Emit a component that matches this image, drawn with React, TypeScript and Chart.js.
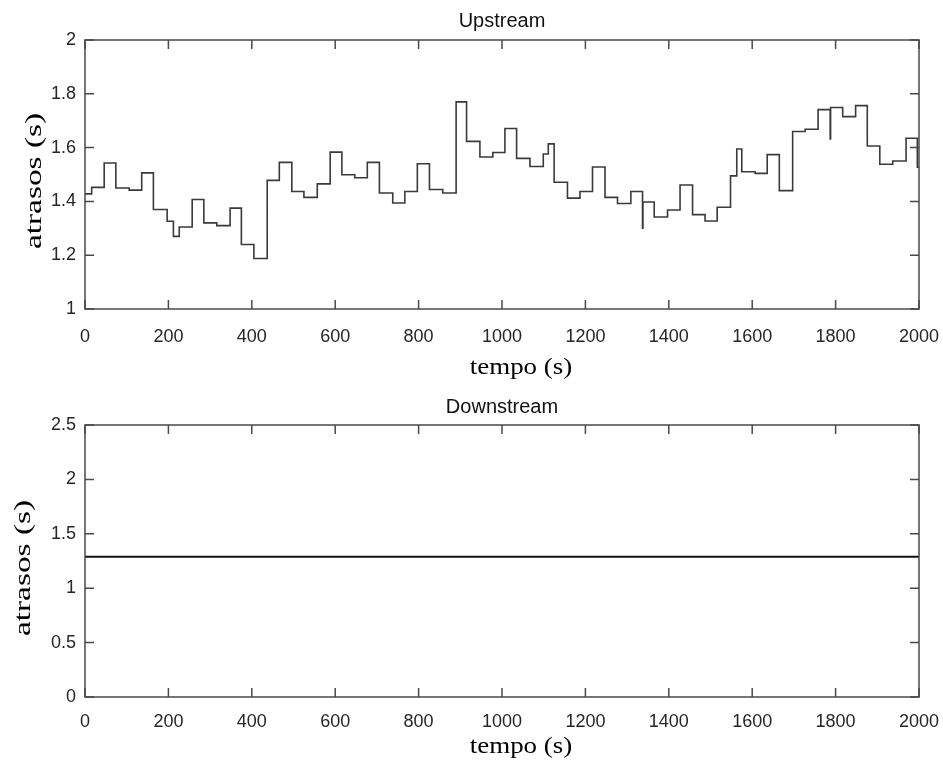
import React, { useEffect, useRef } from "react";
import { Chart, registerables } from "chart.js";

Chart.register(...registerables);

// ---- data ----
const upTimes = [
  0, 16, 46, 74, 106, 136, 164, 197, 212, 226, 257, 285, 316, 348, 375, 405,
  437, 466, 496, 525, 557, 588, 616, 647, 677, 706, 738, 767, 797, 826, 858,
  890, 915, 947, 978, 1007, 1035, 1067, 1099, 1111, 1125, 1157, 1187, 1217,
  1247, 1277, 1309, 1337, 1338, 1365, 1397, 1427, 1457, 1487, 1516, 1548, 1563,
  1575, 1607, 1636, 1665, 1697, 1727, 1758, 1787, 1788, 1817, 1848, 1876, 1906,
  1937, 1969, 1996, 2000,
];
const upValues = [
  1.428, 1.452, 1.543, 1.45, 1.442, 1.506, 1.37, 1.326, 1.27, 1.305, 1.407,
  1.32, 1.31, 1.375, 1.24, 1.188, 1.478, 1.545, 1.437, 1.415, 1.465, 1.583,
  1.499, 1.488, 1.545, 1.431, 1.394, 1.437, 1.54, 1.444, 1.431, 1.77, 1.623,
  1.565, 1.582, 1.671, 1.56, 1.53, 1.576, 1.614, 1.471, 1.412, 1.437, 1.528,
  1.415, 1.392, 1.437, 1.3, 1.398, 1.342, 1.368, 1.461, 1.351, 1.327, 1.378,
  1.495, 1.595, 1.51, 1.504, 1.574, 1.44, 1.66, 1.668, 1.741, 1.632, 1.749,
  1.715, 1.756, 1.606, 1.538, 1.55, 1.635, 1.527, 1.527,
];
const downTimes = [0, 2000];
const downValues = [1.29, 1.29];

const xTickValues = [0, 200, 400, 600, 800, 1000, 1200, 1400, 1600, 1800, 2000];
const upYTickValues = [1, 1.2, 1.4, 1.6, 1.8, 2];
const downYTickValues = [0, 0.5, 1, 1.5, 2, 2.5];

const upTitle = "Upstream";
const downTitle = "Downstream";
const xTitle = "tempo (s)";
const yTitle = "atrasos (s)";

const TICK_FONT = "'Liberation Sans', Arial, sans-serif";
const TITLE_FONT = "'Liberation Sans', Arial, sans-serif";
const SERIF_FONT = "'Liberation Serif', 'Times New Roman', serif";

type PanelCfg = {
  times: number[];
  values: number[];
  yTicks: number[];
  yMin: number;
  yMax: number;
  title: string;
  height: number;
  top: number;
  plotTop: number;
  plotBottom: number;
  titleBaseline: number;
  xTitleBaseline: number;
  yTitleX: number;
  yTitleY: number;
  xTickPad: number;
  lineColor: string;
  lineWidth: number;
};

function fmt(v: number) {
  return String(Math.round(v * 10) / 10);
}

function framePlugin(cfg: PanelCfg) {
  return {
    id: "frame",
    afterDatasetsDraw(chart: any) {
      const { ctx, chartArea: a, scales } = chart;
      ctx.save();
      ctx.strokeStyle = "#4a4a4a";
      ctx.lineWidth = 1.5;
      ctx.strokeRect(a.left, a.top, a.right - a.left, a.bottom - a.top);
      const L = 9;
      ctx.beginPath();
      scales.x.ticks.forEach((t: any) => {
        const px = scales.x.getPixelForValue(t.value);
        ctx.moveTo(px, a.bottom);
        ctx.lineTo(px, a.bottom - L);
        ctx.moveTo(px, a.top);
        ctx.lineTo(px, a.top + L);
      });
      scales.y.ticks.forEach((t: any) => {
        const py = scales.y.getPixelForValue(t.value);
        ctx.moveTo(a.left, py);
        ctx.lineTo(a.left + L, py);
        ctx.moveTo(a.right, py);
        ctx.lineTo(a.right - L, py);
      });
      ctx.stroke();

      ctx.fillStyle = "#111";
      ctx.textAlign = "center";
      ctx.textBaseline = "alphabetic";
      ctx.font = `20px ${TITLE_FONT}`;
      ctx.fillText(cfg.title, (a.left + a.right) / 2, cfg.titleBaseline);

      ctx.fillStyle = "#000";
      ctx.font = `23px ${SERIF_FONT}`;
      ctx.save();
      ctx.translate(521, cfg.xTitleBaseline);
      ctx.scale(1.17, 1);
      ctx.fillText(xTitle, 0, 0);
      ctx.restore();

      ctx.save();
      ctx.translate(cfg.yTitleX, cfg.yTitleY);
      ctx.rotate(-Math.PI / 2);
      ctx.scale(1.45, 1);
      ctx.textBaseline = "middle";
      ctx.fillText(yTitle, 0, 0);
      ctx.restore();

      ctx.restore();
    },
  };
}

function Panel({ cfg }: { cfg: PanelCfg }) {
  const ref = useRef<HTMLCanvasElement | null>(null);
  useEffect(() => {
    if (!ref.current) return;
    const points = cfg.times.map((t, i) => ({ x: t, y: cfg.values[i] }));
    const chart = new Chart(ref.current, {
      type: "line",
      data: {
        datasets: [
          {
            data: points,
            stepped: "before",
            borderColor: cfg.lineColor,
            borderWidth: cfg.lineWidth,
            pointRadius: 0,
            fill: false,
          },
        ],
      },
      options: {
        animation: false,
        responsive: false,
        devicePixelRatio: 1,
        layout: { padding: { left: 0, right: 24, top: cfg.plotTop, bottom: 0 } },
        plugins: { legend: { display: false }, tooltip: { enabled: false }, title: { display: false } },
        scales: {
          x: {
            type: "linear",
            min: 0,
            max: 2000,
            grid: { display: false, drawTicks: false },
            border: { display: false },
            afterBuildTicks: (s: any) => {
              s.ticks = xTickValues.map((v) => ({ value: v }));
            },
            afterFit: (s: any) => {
              s.height = cfg.height - cfg.plotBottom;
              s.paddingLeft = 0;
              s.paddingRight = 0;
            },
            ticks: {
              padding: cfg.xTickPad,
              color: "#262626",
              font: { family: TICK_FONT, size: 18 },
              maxRotation: 0,
              autoSkip: false,
              callback: (v: any) => String(v),
            },
          },
          y: {
            type: "linear",
            min: cfg.yMin,
            max: cfg.yMax,
            grid: { display: false, drawTicks: false },
            border: { display: false },
            afterBuildTicks: (s: any) => {
              s.ticks = cfg.yTicks.map((v) => ({ value: v }));
            },
            afterFit: (s: any) => {
              s.width = 85;
              s.paddingTop = 0;
              s.paddingBottom = 0;
            },
            ticks: {
              padding: 9,
              color: "#262626",
              font: { family: TICK_FONT, size: 18 },
              autoSkip: false,
              callback: (v: any) => fmt(Number(v)),
            },
          },
        },
      },
      plugins: [framePlugin(cfg)],
    } as any);
    return () => chart.destroy();
  }, [cfg]);
  return (
    <canvas
      ref={ref}
      width={943}
      height={cfg.height}
      style={{ position: "absolute", left: 0, top: cfg.top, width: 943, height: cfg.height, display: "block" }}
    />
  );
}

const upCfg: PanelCfg = {
  times: upTimes,
  values: upValues,
  yTicks: upYTickValues,
  yMin: 1,
  yMax: 2,
  title: upTitle,
  height: 385,
  top: 0,
  plotTop: 40,
  plotBottom: 309,
  titleBaseline: 27,
  xTitleBaseline: 374,
  yTitleX: 35,
  yTitleY: 181,
  xTickPad: 17,
  lineColor: "#3a3a3a",
  lineWidth: 1.6,
};

const downCfg: PanelCfg = {
  times: downTimes,
  values: downValues,
  yTicks: downYTickValues,
  yMin: 0,
  yMax: 2.5,
  title: downTitle,
  height: 382,
  top: 385,
  plotTop: 40,
  plotBottom: 312,
  titleBaseline: 28,
  xTitleBaseline: 368,
  yTitleX: 24,
  yTitleY: 183,
  xTickPad: 14,
  lineColor: "#111111",
  lineWidth: 2,
};

export default function App() {
  return (
    <div style={{ position: "fixed", left: 0, top: 0, width: 943, height: 767, background: "#fff", overflow: "hidden" }}>
      <Panel cfg={upCfg} />
      <Panel cfg={downCfg} />
    </div>
  );
}
